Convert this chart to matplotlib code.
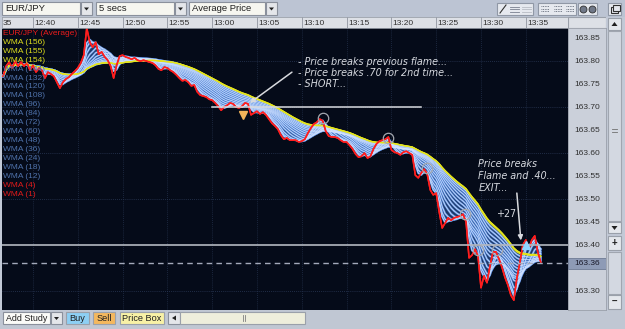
import numpy as np
import matplotlib
matplotlib.use("Agg")
import matplotlib.pyplot as plt
from matplotlib.patches import Rectangle, Polygon

plt.rcParams['font.family'] = ['Liberation Sans', 'DejaVu Sans']

# ---------------- data ----------------
symbol = "EUR/JPY"
interval = "5 secs"
price_type = "Average Price"
start_minute = -10 / 3          # 12:36:40, minutes relative to 12:40
sample_seconds = 20
bar_seconds = 5

prices = [
    163.767, 163.789, 163.798, 163.785, 163.800, 163.789, 163.798, 163.789, 163.796, 163.780,
    163.791, 163.776, 163.785, 163.780, 163.763, 163.776, 163.772, 163.767, 163.754, 163.741,
    163.754, 163.761, 163.765, 163.772, 163.778, 163.785, 163.796, 163.813, 163.872, 163.841,
    163.830, 163.841, 163.815, 163.820, 163.809, 163.802, 163.789, 163.763, 163.791, 163.811,
    163.813, 163.809, 163.807, 163.804, 163.807, 163.802, 163.800, 163.802, 163.800, 163.798,
    163.796, 163.791, 163.783, 163.780, 163.787, 163.785, 163.780, 163.776, 163.770, 163.763,
    163.757, 163.759, 163.754, 163.746, 163.748, 163.733, 163.726, 163.724, 163.722, 163.717,
    163.715, 163.709, 163.702, 163.693, 163.700, 163.704, 163.709, 163.707, 163.700, 163.698,
    163.702, 163.709, 163.707, 163.683, 163.687, 163.691, 163.685, 163.689, 163.683, 163.674,
    163.665, 163.659, 163.652, 163.639, 163.630, 163.633, 163.628, 163.628, 163.628, 163.624,
    163.626, 163.630, 163.643, 163.654, 163.663, 163.667, 163.674, 163.670, 163.648, 163.637,
    163.635, 163.635, 163.633, 163.628, 163.624, 163.624, 163.617, 163.609, 163.598, 163.591,
    163.593, 163.600, 163.589, 163.593, 163.609, 163.620, 163.626, 163.628, 163.630, 163.635,
    163.607, 163.602, 163.600, 163.596, 163.602, 163.604, 163.600, 163.596, 163.552, 163.546,
    163.557, 163.565, 163.554, 163.520, 163.509, 163.513, 163.472, 163.437, 163.448, 163.459,
    163.454, 163.459, 163.461, 163.463, 163.467, 163.450, 163.372, 163.378, 163.391, 163.376,
    163.307, 163.333, 163.318, 163.354, 163.385, 163.385, 163.370, 163.352, 163.330, 163.313,
    163.291, 163.280, 163.328, 163.361, 163.400, 163.411, 163.391, 163.411, 163.420, 163.385,
    163.363,
]

wma_periods = [156, 155, 154, 144, 132, 120, 108, 96, 84, 72, 60, 48, 36, 24, 18, 12, 4, 1]
yellow_periods = [156, 155, 154]
blue_periods = [144, 132, 120, 108, 96, 84, 72, 60, 48, 36, 24, 18, 12]
red_periods = [4, 1]

time_tick_labels = ["12:40", "12:45", "12:50", "12:55", "13:00", "13:05",
                    "13:10", "13:15", "13:20", "13:25", "13:30", "13:35"]
time_tick_minutes = [0, 5, 10, 15, 20, 25, 30, 35, 40, 45, 50, 55]
partial_tick_label = "35"        # the cut-off "12:35" at the left edge
price_ticks = [163.85, 163.80, 163.75, 163.70, 163.65, 163.60, 163.55,
               163.50, 163.45, 163.40, 163.30]
grid_prices = [163.80, 163.70, 163.60, 163.50, 163.30]
current_price = 163.36
level_price = 163.40
short_level = 163.70
short_line_minutes = [20.0, 43.3]

circle_minutes = [32.4, 39.6, 44.0, 48.2, 49.7, 51.8]
circle_prices = [163.676, 163.633, 163.567, 163.467, 163.389, 163.389]
sell_marker = (23.4, 163.683)
buy_marker = (55.0, 163.400)

note1_lines = ["- Price breaks previous flame...", "- Price breaks .70 for 2nd time...", "- SHORT..."]
note1_pos = (29.6, [163.798, 163.775, 163.750])
arrow1 = ((28.9, 163.776), (24.2, 163.709))
note2_lines = ["Price breaks", "Flame and .40...", "EXIT..."]
note2_pos = (49.7, [163.576, 163.551, 163.525])
arrow2 = ((54.0, 163.513), (54.45, 163.410))
profit_text = ("+27", 51.8, 163.467)

XLIM = (-3.46, 59.71)
YLIM = (163.2587, 163.872)


def wma(values, n):
    out = np.empty(len(values))
    for i in range(len(values)):
        seg = values[max(0, i - n + 1): i + 1]
        w = np.arange(1, len(seg) + 1)
        out[i] = np.sum(seg * w) / np.sum(w)
    return out


p = np.array(prices)
minutes = start_minute + np.arange(len(p)) * sample_seconds / 60.0
wmas = {per: wma(p, max(1, int(round(per * bar_seconds / sample_seconds)))) for per in wma_periods}

# ---------------- figure ----------------
W, H = 625, 329
fig = plt.figure(figsize=(W / 100, H / 100), dpi=100)
fig.patch.set_facecolor('#c2c9d6')


def px_axes(x0, y0, x1, y1, z=1):
    return fig.add_axes([x0 / W, 1 - y1 / H, (x1 - x0) / W, (y1 - y0) / H], zorder=z)


bg = fig.add_axes([0, 0, 1, 1], zorder=0)
bg.set_xlim(0, W); bg.set_ylim(H, 0); bg.axis('off')


def rect(a, x0, y0, x1, y1, fc, ec='none', lw=0.8, z=1):
    a.add_patch(Rectangle((x0, y0), x1 - x0, y1 - y0, facecolor=fc, edgecolor=ec, lw=lw, zorder=z))


# top toolbar
rect(bg, 0, 0, W, 17, '#bcc4d3')
for (x0, x1, label) in [(2, 80, symbol), (96, 174, interval), (189, 265, price_type)]:
    rect(bg, x0, 2, x1, 15, '#f6f6f0', '#8a909c')
    bg.text(x0 + 3, 8.7, label, fontsize=6.8, va='center', ha='left', color='#202020')
    rect(bg, x1 + 1, 2, x1 + 12, 15, '#e4e6ea', '#8a909c')
    bg.add_patch(Polygon([[x1 + 4, 7.5], [x1 + 9, 7.5], [x1 + 6.5, 10.5]], closed=True, fc='#202020', zorder=2))
# right toolbar icons
for (x0, x1) in [(497, 533), (538, 576), (578, 597), (608, 621)]:
    rect(bg, x0, 3, x1, 15, '#e6e9ef', '#9098a6')
bg.plot([500, 506], [13, 5], color='#303030', lw=0.8)
for xx in (509, 521):
    for yy in (6.5, 9, 11.5):
        bg.plot([xx + 1, xx + 10], [yy, yy], color='#7a8090' if xx == 509 else '#b8bcc4', lw=0.6)
for xx in (540, 553, 565):
    for yy in (6, 8.5, 11):
        bg.plot([xx + 1, xx + 9], [yy, yy], color='#505868', lw=0.6, ls=(0, (1, 1)))
for cx in (583, 592):
    bg.plot(cx, 9, 'o', ms=5, mfc='#707888', mec='#303030', mew=0.6)
rect(bg, 611, 7, 618, 13, 'none', '#303030', z=3)
rect(bg, 613, 5, 620, 11, '#e6e9ef', '#303030', z=3)

# bottom toolbar
rect(bg, 0, 310, W, H, '#c0c7d3')
rect(bg, 3, 312, 50, 324, '#fbfbf8', '#8a909c')
bg.text(5.5, 318.3, "Add Study", fontsize=6.4, va='center', color='#202020')
rect(bg, 51, 312, 62, 324, '#e4e6ea', '#8a909c')
bg.add_patch(Polygon([[54, 317], [59, 317], [56.5, 320]], closed=True, fc='#202020', zorder=2))
for (x0, x1, label, col) in [(66, 89, "Buy", '#8dcff4'), (93, 115, "Sell", '#f4b85e'), (120, 164, "Price Box", '#f8f1a6')]:
    rect(bg, x0, 312, x1, 324, col, '#9aa0aa')
    bg.text((x0 + x1) / 2, 318.3, label, fontsize=6.6, va='center', ha='center', color='#202020')
rect(bg, 168, 312, 180, 324, '#e4e6ea', '#8a909c')
bg.add_patch(Polygon([[172, 318], [176, 315.5], [176, 320.5]], closed=True, fc='#202020', zorder=2))
rect(bg, 180, 312, 305, 324, '#eeeedc', '#9aa0aa')
bg.plot([242.5, 242.5], [315, 321], color='#808080', lw=0.6)
bg.plot([244.5, 244.5], [315, 321], color='#808080', lw=0.6)

# right price header + scrollbar
rect(bg, 568, 17, 606, 28, '#dde0e6', '#9aa0aa')
rect(bg, 606, 17, 625, 310, '#c2c9d6')
rect(bg, 608, 18, 621, 30, '#e4e7ec', '#9aa0aa')
bg.add_patch(Polygon([[611.5, 26], [617.5, 26], [614.5, 22]], closed=True, fc='#202020', zorder=3))
rect(bg, 608, 31, 621, 221, '#d3d8e1', '#a0a6b0')
bg.plot([612, 617], [129, 129], color='#707070', lw=0.6, zorder=3)
bg.plot([612, 617], [131.5, 131.5], color='#707070', lw=0.6, zorder=3)
rect(bg, 608, 222, 621, 233, '#e4e7ec', '#9aa0aa')
bg.add_patch(Polygon([[611.5, 226], [617.5, 226], [614.5, 230]], closed=True, fc='#202020', zorder=3))
rect(bg, 608, 236, 621, 250, '#e4e7ec', '#9aa0aa')
bg.text(614.5, 243, "+", fontsize=7, ha='center', va='center', fontweight='bold', color='#202020', zorder=4)
rect(bg, 608, 252, 621, 294, '#d3d8e1', '#a0a6b0')
rect(bg, 608, 295, 621, 309, '#e4e7ec', '#9aa0aa')
bg.text(614.5, 302, "\u2013", fontsize=7, ha='center', va='center', fontweight='bold', color='#202020', zorder=4)

# ---------------- main plot ----------------
ax = px_axes(2, 28, 568, 310, z=2)
ax.set_facecolor('#050b19')
ax.set_xlim(*XLIM); ax.set_ylim(*YLIM)
ax.set_xticks([]); ax.set_yticks([])
for s in ax.spines.values():
    s.set_visible(False)

for m in time_tick_minutes:
    ax.axvline(m, color='#22304a', lw=0.6, ls=(0, (1, 1.5)), zorder=0.5)
for gp in grid_prices:
    ax.axhline(gp, color='#2a3856', lw=0.6, ls=(0, (1, 1.5)), zorder=0.5)

# ribbon
lo = np.min([wmas[k] for k in blue_periods + yellow_periods], axis=0)
hi = np.max([wmas[k] for k in blue_periods + yellow_periods], axis=0)
ax.fill_between(minutes, lo, hi, color='#3867b8', alpha=0.5, lw=0, zorder=1)
for per in blue_periods:
    ax.plot(minutes, wmas[per], color='#5e90df', lw=1.5, zorder=2)
    ax.plot(minutes, wmas[per], color='#d2e2ff', lw=0.5, zorder=2.1)
for per in yellow_periods:
    ax.plot(minutes, wmas[per], color='#e4e41c', lw=0.9, zorder=3)
for per in red_periods:
    ax.plot(minutes, wmas[per], color='#ff1e1e', lw=1.1, zorder=4)

# reference lines
ax.axhline(level_price, color='#b4b8c0', lw=1.2, zorder=5)
ax.axhline(current_price, color='#a4aabb', lw=1.0, ls=(0, (4, 3)), zorder=5)
ax.plot(short_line_minutes, [short_level, short_level], color='#d8dadf', lw=1.1, zorder=5)

# markers
ax.plot(circle_minutes, circle_prices, 'o', ms=7.5, mfc='none', mec='#a4a8b0', mew=0.9, zorder=6)
ax.plot([sell_marker[0]], [sell_marker[1]], 'v', ms=6, color='#f3b45a', zorder=6)
ax.plot([buy_marker[0]], [buy_marker[1]], '^', ms=6, color='#8fd4ff', zorder=6)

# annotations
for line, yy in zip(note1_lines, note1_pos[1]):
    ax.text(note1_pos[0], yy, line, fontsize=6.9, style='italic', color='#d6d9df',
            va='center', ha='left', family='DejaVu Sans', zorder=7)
for line, yy in zip(note2_lines, note2_pos[1]):
    ax.text(note2_pos[0], yy, line, fontsize=6.9, style='italic', color='#d6d9df',
            va='center', ha='left', family='DejaVu Sans', zorder=7)
ax.text(profit_text[1], profit_text[2], profit_text[0], fontsize=6.9, color='#d6d9df',
        va='center', ha='left', family='DejaVu Sans', zorder=7)
for (start, tip) in (arrow1, arrow2):
    ax.annotate('', xy=tip, xytext=start,
                arrowprops=dict(arrowstyle='-|>', color='#d8dade', lw=1.1, mutation_scale=7,
                                shrinkA=0, shrinkB=0), zorder=7)

# legend of studies
legend_items = [("EUR/JPY (Average)", '#e81c1c')]
for per in wma_periods:
    if per in yellow_periods:
        c = '#dede1e'
    elif per in blue_periods:
        c = '#4f72ab'
    else:
        c = '#e01a1a'
    legend_items.append((f"WMA ({per})", c))
for i, (txt, c) in enumerate(legend_items):
    ypx = 33.3 + 8.95 * i
    ax.text(1.0 / 566, 1 - (ypx - 28) / 282, txt, transform=ax.transAxes, fontsize=6.0,
            color=c, va='center', ha='left', zorder=8)

# ---------------- time header ----------------
hx = px_axes(2, 17, 568, 28, z=2)
hx.set_facecolor('#dde0e6')
hx.set_xlim(*XLIM); hx.set_ylim(0, 1)
hx.set_xticks([]); hx.set_yticks([])
for s in hx.spines.values():
    s.set_color('#9aa0aa'); s.set_linewidth(0.6)
for m, lab in zip(time_tick_minutes, time_tick_labels):
    hx.axvline(m, color='#9aa0aa', lw=0.7)
    hx.text(m + 0.15, 0.45, lab, fontsize=6.0, color='#303030', va='center', ha='left')
hx.text(XLIM[0] + 0.05, 0.45, partial_tick_label, fontsize=6.0, color='#303030', va='center', ha='left')

# ---------------- price panel ----------------
pax = px_axes(568, 28, 606, 310, z=2)
pax.set_facecolor('#cbd0da')
pax.set_ylim(*YLIM); pax.set_xlim(0, 1)
pax.set_xticks([]); pax.set_yticks([])
for s in pax.spines.values():
    s.set_color('#9aa0aa'); s.set_linewidth(0.6)
for pt in price_ticks:
    pax.text(0.5, pt, f"{pt:.2f}", fontsize=6.0, color='#303030', ha='center', va='center')
pax.add_patch(Rectangle((0, current_price - 0.0125), 1, 0.025, facecolor='#8e9bb6',
                        edgecolor='#6f7b94', lw=0.6, zorder=3))
pax.text(0.5, current_price, f"{current_price:.2f}", fontsize=6.0, color='#1a1a2a',
         ha='center', va='center', zorder=4)

fig.savefig("out.png", dpi=100, facecolor=fig.get_facecolor())
